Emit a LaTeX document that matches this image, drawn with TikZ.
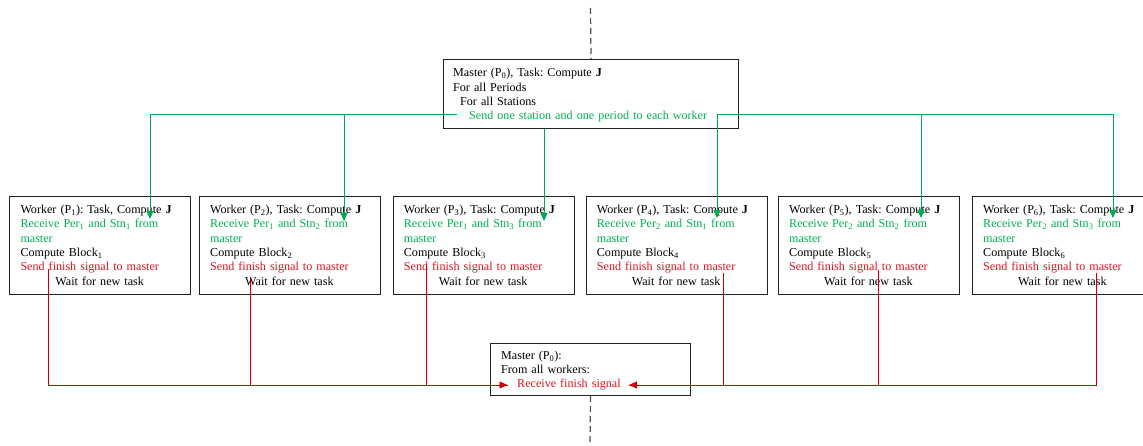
\documentclass[tikz,border=0pt]{standalone}
\usepackage{fontspec}
\setmainfont{Liberation Serif}
\usetikzlibrary{arrows.meta,calc}

\definecolor{gtext}{RGB}{0,176,80}
\definecolor{gline}{RGB}{0,170,80}
\definecolor{rtext}{RGB}{220,20,30}
\definecolor{rline}{RGB}{200,0,0}
\definecolor{boxline}{RGB}{35,35,35}
\definecolor{dashgray}{RGB}{80,80,80}

\tikzset{
  procbox/.style={draw=boxline, line width=1pt, inner sep=0pt, anchor=north west},
  wbox/.style={procbox, minimum width=181pt, minimum height=98pt},
  boxtext/.style={anchor=base west, inner sep=0pt, align=left,
    font=\fontsize{12.1}{14.3}\selectfont\frenchspacing},
  wtext/.style={boxtext, text width=158.4pt},
  garrow/.style={draw=gline, line width=0.9pt, -{Triangle[length=8pt,width=7pt]}},
  rarrow/.style={draw=rline, line width=0.9pt, -{Triangle[length=8pt,width=7pt]}},
  rwire/.style={draw=rline, line width=0.9pt},
  axis/.style={draw=dashgray, line width=1.2pt, dash pattern=on 6pt off 4pt}
}

\newcommand{\wsub}[1]{\textsubscript{#1}}
% one worker box: name, left x, processor no., task title, period, station
\newcommand{\workerbox}[6]{%
  \node[wbox] (#1) at (#2,196) {};
  \node[wtext] (#1t) at ($(#1.north west)+(11,17.6)$) {%
    Worker (P\wsub{#3})#4 Compute \textbf{J}\\
    \textcolor{gtext}{Receive Per\wsub{#5} and Stn\wsub{#6} from}\\
    \textcolor{gtext}{master}\\
    Compute Block\wsub{#3}\\
    \textcolor{rtext}{Send finish signal to master}\\
    \makebox[\linewidth]{Wait for new task}};
}

\begin{document}
\begin{tikzpicture}[x=1pt,y=-1pt]
  \useasboundingbox (0,0) rectangle (1143,446);
  \clip (0,0) rectangle (1143,446);

  % master that hands out the work
  \node[procbox, minimum width=295pt, minimum height=68.7pt] (m0) at (443,59) {};
  \node[boxtext, text width=280pt] (m0t) at ($(m0.north west)+(10,18)$) {%
    Master (P\wsub{0}), Task: Compute \textbf{J}\\
    For all Periods\\
    \hspace*{7pt}For all Stations\\
    \hspace*{16pt}\textcolor{gtext}{Send one station and one period to each worker}};

  % workers
  \workerbox{w1}{9.3}{1}{: Task,}{1}{1}
  \workerbox{w2}{199}{2}{, Task:}{1}{2}
  \workerbox{w3}{392.7}{3}{, Task:}{1}{3}
  \workerbox{w4}{585.7}{4}{, Task:}{2}{1}
  \workerbox{w5}{778}{5}{, Task:}{2}{2}
  \workerbox{w6}{972}{6}{, Task:}{2}{3}

  % master that collects the results
  \node[procbox, minimum width=200pt, minimum height=52.5pt] (m1) at (490,342.5) {};
  \node[boxtext, text width=185pt] (m1t) at ($(m1.north west)+(11,16.8)$) {%
    Master (P\wsub{0}):\\
    From all workers:\\
    \hspace*{16pt}\textcolor{rtext}{Receive finish signal}};

  % time axis through both masters
  \coordinate (dtop) at (590.5,8);
  \coordinate (dbot) at (590,446);
  \draw[axis] (dtop) -- (m0.north);
  \draw[axis] (m1.south) -- (dbot);

  % distribution of tasks
  \coordinate (gl) at (457,114);
  \coordinate (gr) at (717,114);
  \coordinate (t1) at (150,219);
  \coordinate (t2) at (344,221);
  \coordinate (t3) at (544,221);
  \coordinate (t4) at (717,218);
  \coordinate (t5) at (921,218);
  \coordinate (t6) at (1113,218);
  \draw[garrow] (gl) -| (t1);
  \draw[garrow] (gl) -| (t2);
  \draw[garrow] (m0.south -| t3) -- (t3);
  \draw[garrow] (gr) -- (t4);
  \draw[garrow] (gr) -| (t5);
  \draw[garrow] (gr) -| (t6);

  % finish signals back to the master
  \coordinate (s1) at (48,269);
  \coordinate (s2) at (250,277);
  \coordinate (s3) at (426,265);
  \coordinate (s4) at (723,273);
  \coordinate (s5) at (878,270);
  \coordinate (s6) at (1096,273);
  \coordinate (rl) at (507.5,385);
  \coordinate (rr) at (629,385);
  \draw[rwire] (s2) |- (rl);
  \draw[rwire] (s3) |- (rl);
  \draw[rarrow] (s1) |- (rl);
  \draw[rwire] (s5) |- (rr);
  \draw[rwire] (s6) |- (rr);
  \draw[rarrow] (s4) |- (rr);
\end{tikzpicture}
\end{document}
